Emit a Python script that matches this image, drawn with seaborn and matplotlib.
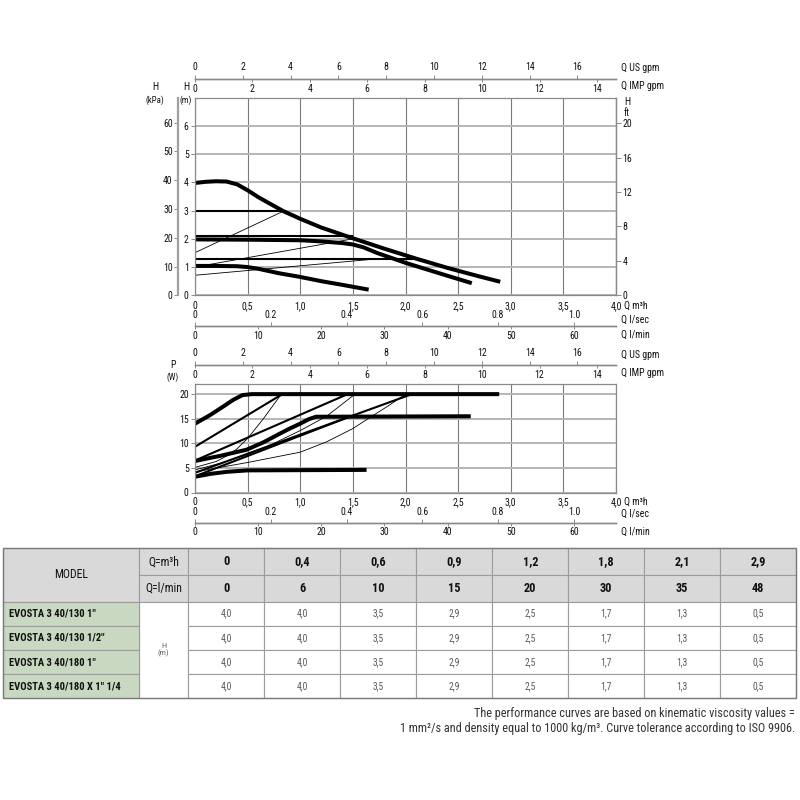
import numpy as np
import pandas as pd
import matplotlib
matplotlib.use("Agg")
import matplotlib.pyplot as plt
from matplotlib.patches import Rectangle
import seaborn as sns

# ---------------- data: head curves (Q m3/h -> H m) ----------------
hmax_q = [0, 0.1, 0.2, 0.3, 0.4, 0.5, 0.6, 0.7, 0.84, 1.0, 1.2, 1.5, 1.8, 2.1, 2.4, 2.7, 2.9]
hmax_h = [3.98, 4.02, 4.04, 4.03, 3.93, 3.72, 3.48, 3.27, 2.98, 2.71, 2.40, 2.02, 1.65, 1.30, 0.97, 0.67, 0.48]
hmid_q = [0, 0.5, 1.0, 1.2, 1.4, 1.5, 1.6, 1.73, 1.9, 2.0, 2.2, 2.4, 2.63]
hmid_h = [1.98, 1.97, 1.95, 1.91, 1.85, 1.80, 1.70, 1.50, 1.28, 1.15, 0.92, 0.69, 0.43]
hlow_q = [0, 0.2, 0.4, 0.5, 0.6, 0.8, 1.0, 1.2, 1.4, 1.65]
hlow_h = [1.04, 1.04, 1.03, 1.00, 0.94, 0.78, 0.65, 0.50, 0.37, 0.20]
# constant pressure lines
cp_h = [2.98, 2.10, 1.29]
cp_qend = [0.84, 1.50, 2.07]
# proportional pressure lines
pp_h0 = [1.51, 1.00, 0.71]
pp_qend = [0.84, 1.50, 1.73]
pp_hend = [2.98, 2.00, 1.29]

# ---------------- data: power curves (Q m3/h -> P W) ----------------
pmax_q = [0, 0.14, 0.27, 0.36, 0.45, 0.54, 2.89]
pmax_p = [14.0, 15.7, 17.5, 18.8, 19.8, 20.0, 20.0]
pmid_q = [0, 0.25, 0.49, 0.65, 0.8, 0.9, 1.0, 1.08, 1.15, 2.62]
pmid_p = [6.4, 7.5, 8.7, 10.2, 11.9, 13.0, 14.0, 14.9, 15.4, 15.5]
plow_q = [0, 0.15, 0.3, 0.5, 1.63]
plow_p = [3.2, 3.8, 4.2, 4.5, 4.6]
# straight power lines (start P at Q=0 -> end point)
pl_p0 = [9.3, 6.5, 4.0, 3.3]
pl_qend = [0.83, 1.45, 2.06, 1.48]
pl_pend = [20.0, 20.0, 20.0, 15.5]
# thin power curves
t1_q = [0, 0.2, 0.3, 0.4, 0.5, 0.65, 0.82]
t1_p = [5.1, 6.3, 7.4, 8.9, 11.0, 15.0, 20.0]
t2_q = [0, 0.25, 0.5, 0.75, 1.0, 1.25, 1.52]
t2_p = [4.6, 6.0, 7.7, 10.0, 12.6, 15.5, 20.0]
t3_q = [0, 0.5, 1.0, 1.25, 1.5, 1.68, 1.85, 2.0]
t3_p = [4.2, 6.1, 8.2, 10.3, 13.0, 15.5, 17.8, 20.0]

# ---------------- axis ticks ----------------
q_ticks = [0, 0.5, 1.0, 1.5, 2.0, 2.5, 3.0, 3.5, 4.0]
usgpm_ticks = [0, 2, 4, 6, 8, 10, 12, 14, 16]
impgpm_ticks = [0, 2, 4, 6, 8, 10, 12, 14]
ls_ticks = [0, 0.2, 0.4, 0.6, 0.8, 1.0]
lmin_ticks = [0, 10, 20, 30, 40, 50, 60]
h_ticks = [0, 1, 2, 3, 4, 5, 6]
kpa_ticks = [0, 10, 20, 30, 40, 50, 60]
ft_ticks = [0, 4, 8, 12, 16, 20]
p_ticks = [0, 5, 10, 15, 20]

# ---------------- table data ----------------
models = ['EVOSTA 3 40/130 1"', 'EVOSTA 3 40/130 1/2"', 'EVOSTA 3 40/180 1"', 'EVOSTA 3 40/180 X 1" 1/4']
tab_q_m3h = [0, 0.4, 0.6, 0.9, 1.2, 1.8, 2.1, 2.9]
tab_q_lmin = [0, 6, 10, 15, 20, 30, 35, 48]
tab_h = [4.0, 4.0, 3.5, 2.9, 2.5, 1.7, 1.3, 0.5]

M3H_USGPM = 4.40287
M3H_IMPGPM = 3.66615
M3H_LS = 1 / 3.6
M3H_LMIN = 1000 / 60
M_KPA = 9.80665
M_FT = 1 / 0.3048

def comma(v, nd=1):
    if v == 0:
        return "0"
    return f"{v:.{nd}f}".replace(".", ",")

# ---------------- style ----------------
sns.set_theme(style="white")
plt.rcParams["font.family"] = ["Liberation Sans Narrow", "Roboto Condensed", "Liberation Sans", "DejaVu Sans"]
TXT = "#111111"
GRAY = "#8a8a8a"
FS = 7.1

fig = plt.figure(figsize=(8, 8), dpi=100)
W = H = 800.0

def box(l, t, r, b):
    return [l / W, 1 - b / H, (r - l) / W, (b - t) / H]

def ftext(x, y, s, **kw):
    kw.setdefault("fontsize", FS)
    kw.setdefault("color", TXT)
    kw.setdefault("va", "center")
    fig.text(x / W, 1 - y / H, s, **kw)

def style_main(ax, ymax, yticks, xpad):
    ax.set_xlim(0, 4)
    ax.set_ylim(0, ymax)
    ax.set_xticks(q_ticks, [comma(v) for v in q_ticks])
    ax.set_yticks(yticks, [str(v) for v in yticks])
    ax.tick_params(axis="x", length=0, pad=xpad, labelsize=FS, labelcolor=TXT)
    ax.tick_params(axis="y", left=True, length=3, width=0.7, pad=1.5, labelsize=FS,
                   color=GRAY, labelcolor=TXT)
    ax.xaxis.grid(True, color="#7a7a7a", lw=0.8)
    ax.yaxis.grid(True, color="#b5b5b5", lw=1.4)
    ax.set_axisbelow(True)
    for s in ax.spines.values():
        s.set_color(GRAY)
        s.set_linewidth(0.9)
        s.set_visible(True)
    ax.set_xlabel("")
    ax.set_ylabel("")

def sec_x(ax, loc, factor, ticks, labels, side, length, pad):
    sec = ax.secondary_xaxis(loc, functions=(lambda q, f=factor: q * f, lambda v, f=factor: v / f))
    sec.set_alignment(side)
    sec.set_ticks(ticks, labels)
    sec.tick_params(length=length, width=0.7, pad=pad, labelsize=FS, color=GRAY, labelcolor=TXT)
    for s in sec.spines.values():
        s.set_color(GRAY)
        s.set_linewidth(1.0)
    return sec

def draw(ax, x, y, lw):
    sns.lineplot(x=x, y=y, ax=ax, color="black", linewidth=lw, estimator=None,
                 sort=False, legend=False, solid_capstyle="butt")

THICK, MED, THIN = 2.9, 1.5, 0.6

# ================= head chart =================
ax1 = fig.add_axes(box(195, 97.7, 616, 295.3))
for h0, qe, he in zip(pp_h0, pp_qend, pp_hend):
    draw(ax1, [0, qe], [h0, he], THIN)
for h, qe in zip(cp_h, cp_qend):
    draw(ax1, [0, qe], [h, h], MED)
draw(ax1, hlow_q, hlow_h, THICK)
draw(ax1, hmid_q, hmid_h, THICK)
draw(ax1, hmax_q, hmax_h, THICK)
style_main(ax1, 7, h_ticks, 4.2)

sec_x(ax1, 1 + 18.7 / 197.6, M3H_USGPM, usgpm_ticks, [str(v) for v in usgpm_ticks], "top", 3, 2.0)
sec_x(ax1, 1 + 18.7 / 197.6, M3H_IMPGPM, impgpm_ticks, [str(v) for v in impgpm_ticks], "bottom", 2.5, 0.8)
sec_x(ax1, -30.7 / 197.6, M3H_LS, ls_ticks, ["0"] + [f"{v:.1f}" for v in ls_ticks[1:]], "top", 3, 1.2)
sec_x(ax1, -30.7 / 197.6, M3H_LMIN, lmin_ticks, [str(v) for v in lmin_ticks], "bottom", 2.5, 0.8)

kpa = ax1.secondary_yaxis(-16.7 / 421, functions=(lambda m: m * M_KPA, lambda k: k / M_KPA))
kpa.set_ticks(kpa_ticks, [str(v) for v in kpa_ticks])
kpa.tick_params(length=3, width=0.7, pad=1, labelsize=FS, color=GRAY, labelcolor=TXT)
for s in kpa.spines.values():
    s.set_color("#a0a0a0")
    s.set_linewidth(1.6)

ft = ax1.secondary_yaxis("right", functions=(lambda m: m * M_FT, lambda f: f / M_FT))
ft.set_ticks(ft_ticks, [str(v) for v in ft_ticks])
ft.tick_params(length=3.5, width=0.7, pad=1, labelsize=FS, color=GRAY, labelcolor=TXT)
for s in ft.spines.values():
    s.set_color(GRAY)
    s.set_linewidth(0.9)

ftext(621, 68, "Q US gpm", ha="left")
ftext(621, 86, "Q IMP gpm", ha="left")
ftext(627, 102, "H", ha="center")
ftext(627, 113, "ft", ha="center")
ftext(624, 306, "Q m³h", ha="left")
ftext(621, 320, "Q l/sec", ha="left")
ftext(621, 334.5, "Q l/min", ha="left")
ftext(155, 87, "H", ha="center")
ftext(155, 100, "(kPa)", ha="center", fontsize=6.3)
ftext(186, 87, "H", ha="center")
ftext(186, 100, "(m)", ha="center", fontsize=6.3)

# ================= power chart =================
ax2 = fig.add_axes(box(195, 384.3, 616, 492.5))
for q, p in [(t1_q, t1_p), (t2_q, t2_p), (t3_q, t3_p)]:
    draw(ax2, q, p, THIN)
for p0, qe, pe in zip(pl_p0, pl_qend, pl_pend):
    draw(ax2, [0, qe], [p0, pe], MED)
draw(ax2, plow_q, plow_p, THICK)
draw(ax2, pmid_q, pmid_p, THICK)
draw(ax2, pmax_q, pmax_p, THICK)
style_main(ax2, 22, p_ticks, 3.3)

sec_x(ax2, 1 + 19.3 / 108.2, M3H_USGPM, usgpm_ticks, [str(v) for v in usgpm_ticks], "top", 3, 2.0)
sec_x(ax2, 1 + 19.3 / 108.2, M3H_IMPGPM, impgpm_ticks, [str(v) for v in impgpm_ticks], "bottom", 2.5, 0.8)
sec_x(ax2, -30.2 / 108.2, M3H_LS, ls_ticks, ["0"] + [f"{v:.1f}" for v in ls_ticks[1:]], "top", 3, 1.2)
sec_x(ax2, -30.2 / 108.2, M3H_LMIN, lmin_ticks, [str(v) for v in lmin_ticks], "bottom", 2.5, 0.8)

ftext(621, 355, "Q US gpm", ha="left")
ftext(621, 373, "Q IMP gpm", ha="left")
ftext(173, 365, "P", ha="center")
ftext(173, 377, "(W)", ha="center", fontsize=6.3)
ftext(624, 502, "Q m³h", ha="left")
ftext(621, 513.5, "Q l/sec", ha="left")
ftext(621, 532, "Q l/min", ha="left")

# ================= table =================
axt = fig.add_axes([0, 0, 1, 1])
axt.set_xlim(0, W)
axt.set_ylim(H, 0)
axt.axis("off")

col_x = [2.7, 139, 188.3] + [188.3 + 76 * (i + 1) for i in range(len(tab_q_m3h))]
row_y = [548.3, 575, 601.7, 625.7, 650, 674, 698.3]
HDR = "#d9d9d9"
GRN = "#c9d8c1"
LINE = "#9c9c9c"

def rect(x0, y0, x1, y1, fc):
    axt.add_patch(Rectangle((x0, y0), x1 - x0, y1 - y0, facecolor=fc, edgecolor=LINE, lw=0.8))

# header
rect(col_x[0], row_y[0], col_x[1], row_y[2], HDR)
axt.text((col_x[0] + col_x[1]) / 2, (row_y[0] + row_y[2]) / 2, "MODEL", ha="center", va="center",
         fontsize=8.5, color=TXT)
rect(col_x[1], row_y[0], col_x[2], row_y[1], HDR)
rect(col_x[1], row_y[1], col_x[2], row_y[2], HDR)
axt.text((col_x[1] + col_x[2]) / 2, (row_y[0] + row_y[1]) / 2, "Q=m³h", ha="center", va="center",
         fontsize=8.5, color=TXT)
axt.text((col_x[1] + col_x[2]) / 2, (row_y[1] + row_y[2]) / 2, "Q=l/min", ha="center", va="center",
         fontsize=8.5, color=TXT)
for i, (qm, ql) in enumerate(zip(tab_q_m3h, tab_q_lmin)):
    x0, x1 = col_x[2 + i], col_x[3 + i]
    rect(x0, row_y[0], x1, row_y[1], HDR)
    rect(x0, row_y[1], x1, row_y[2], HDR)
    axt.text((x0 + x1) / 2, (row_y[0] + row_y[1]) / 2, comma(qm), ha="center", va="center",
             fontsize=8.8, fontweight="bold", color=TXT)
    axt.text((x0 + x1) / 2, (row_y[1] + row_y[2]) / 2, str(ql), ha="center", va="center",
             fontsize=8.8, fontweight="bold", color=TXT)

# H (m) merged cell
rect(col_x[1], row_y[2], col_x[2], row_y[-1], "white")
axt.text((col_x[1] + col_x[2]) / 2, (row_y[2] + row_y[-1]) / 2, "H\n(m)", ha="center", va="center",
         fontsize=6, color="#666666", linespacing=1.1)

for r, name in enumerate(models):
    y0, y1 = row_y[2 + r], row_y[3 + r]
    rect(col_x[0], y0, col_x[1], y1, GRN)
    axt.text(col_x[0] + 6, (y0 + y1) / 2, name, ha="left", va="center", fontsize=7.6,
             fontweight="bold", color=TXT)
    for i, hv in enumerate(tab_h):
        x0, x1 = col_x[2 + i], col_x[3 + i]
        rect(x0, y0, x1, y1, "white")
        axt.text((x0 + x1) / 2, (y0 + y1) / 2, comma(hv), ha="center", va="center",
                 fontsize=6.9, color="#5a5a5a")

axt.add_patch(Rectangle((col_x[0], row_y[0]), col_x[-1] - col_x[0], row_y[-1] - row_y[0],
                        facecolor="none", edgecolor="#7a7a7a", lw=1.0))

axt.text(795, 713.5, "The performance curves are based on kinematic viscosity values =",
         ha="right", va="center", fontsize=8.8, color="#333333")
axt.text(795, 728.5, "1 mm²/s and density equal to 1000 kg/m³. Curve tolerance according to ISO 9906.",
         ha="right", va="center", fontsize=8.8, color="#333333")

fig.savefig("out.png", dpi=100, facecolor="white")
